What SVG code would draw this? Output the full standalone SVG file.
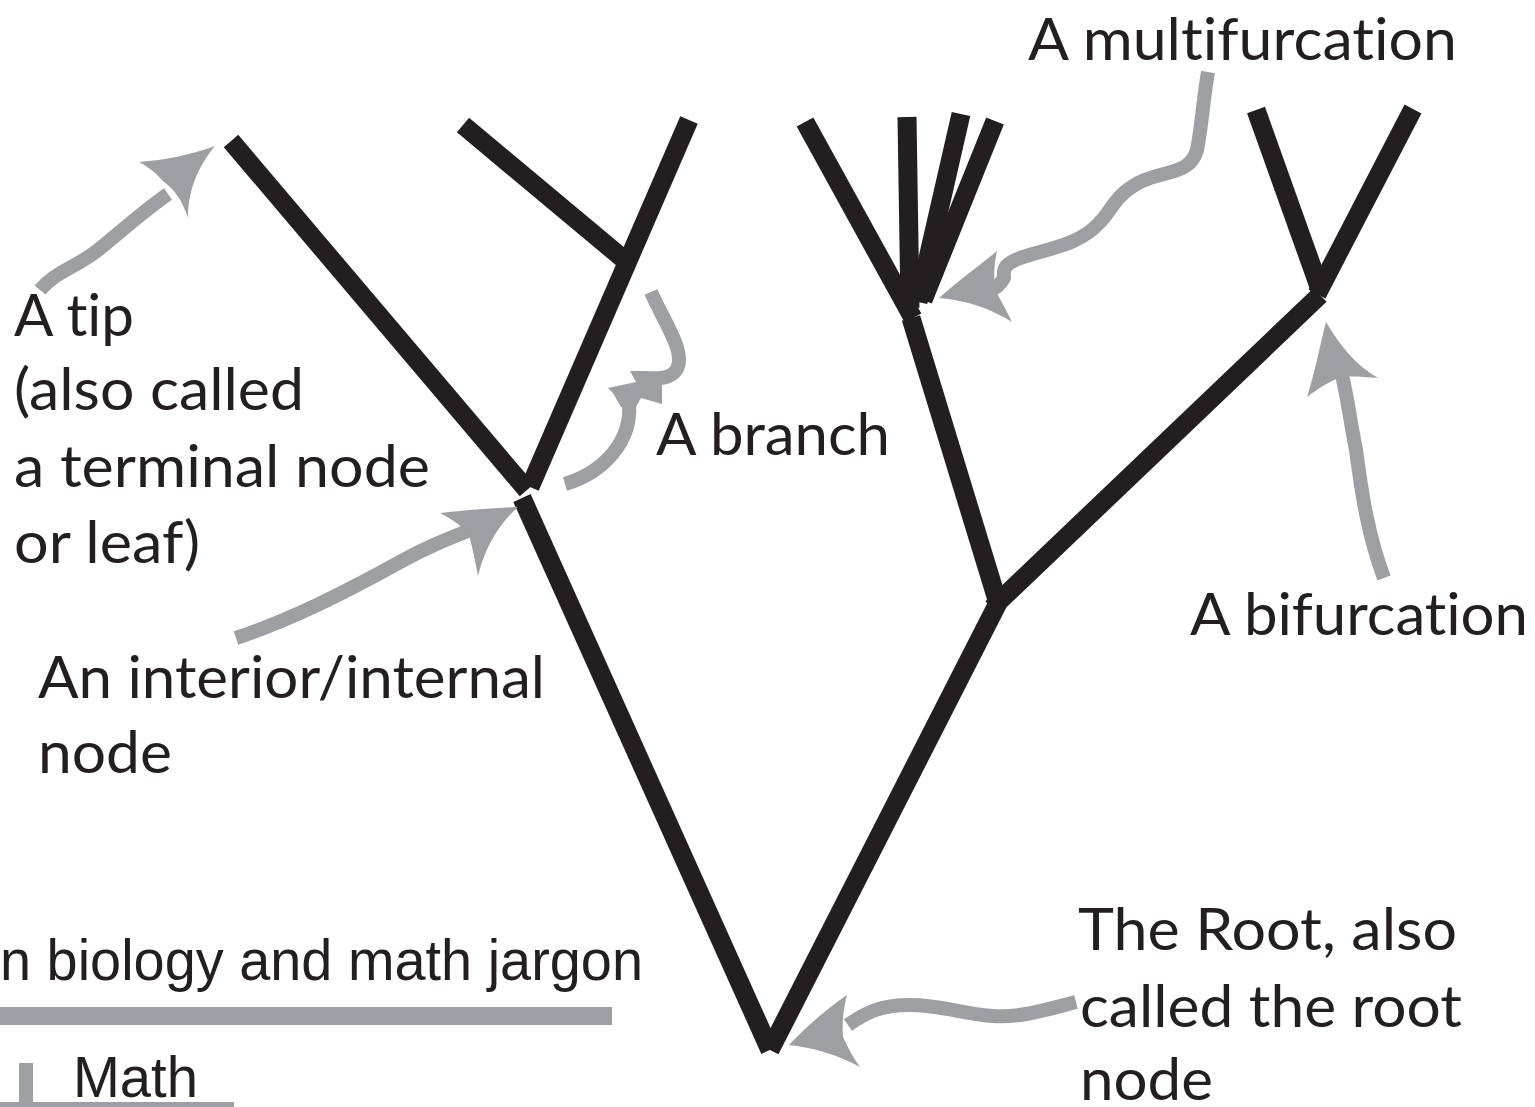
<svg xmlns="http://www.w3.org/2000/svg" width="1535" height="1107" viewBox="0 0 1535 1107">
  <style>
    .br { stroke: #231f20; stroke-width: 19; stroke-linecap: butt; fill: none; }
    .ar { stroke: #9d9fa2; stroke-width: 14; stroke-linecap: butt; stroke-linejoin: round; fill: none; }
    .hd { fill: #9d9fa2; stroke: none; }
    .lb { font-family: "Lato", "Open Sans", "Noto Sans", sans-serif; font-size: 58px; fill: #231f20; font-variant-ligatures: none; }
    .cn { font-family: "Liberation Sans", Arial, sans-serif; font-size: 58px; fill: #231f20; }
  </style>
  <rect width="1535" height="1107" fill="#ffffff"/>

  <!-- tree branches -->
  <g id="tree">
    <line class="br" x1="231" y1="141" x2="527" y2="490"/>
    <line class="br" x1="463" y1="125" x2="627" y2="262"/>
    <line class="br" x1="689" y1="120" x2="530" y2="487"/>
    <line class="br" x1="522" y1="498" x2="770" y2="1050"/>
    <line class="br" x1="770" y1="1050" x2="998" y2="603"/>
    <line class="br" x1="992" y1="608" x2="1320" y2="295"/>
    <line class="br" x1="998" y1="603" x2="911" y2="318"/>
    <line class="br" x1="805" y1="122" x2="913" y2="318"/>
    <line class="br" x1="907" y1="117" x2="910" y2="308"/>
    <line class="br" x1="961" y1="114" x2="918" y2="302"/>
    <line class="br" x1="995" y1="121" x2="923" y2="300"/>
    <line class="br" x1="1256" y1="110" x2="1321" y2="292"/>
    <line class="br" x1="1413" y1="109" x2="1317" y2="294"/>
  </g>

  <!-- pointer arrows -->
  <g id="connectors">
    <!-- to the tip -->
    <path class="ar" d="M40,290 C55,272 75,268 98,250 C125,228 145,210 168,194"/>
    <path class="hd" d="M215,146 C195,170 188,195 188,218 C182,200 175,190 163,181 C155,172 147,166 139,162 C165,160 190,155 215,146 Z"/>
    <!-- to the interior node -->
    <path class="ar" d="M236,638 C290,620 340,595 400,562 C425,548 445,540 470,530"/>
    <path class="hd" d="M518,507 C498,525 485,548 478,576 C475,560 472,545 468,532 C460,525 450,518 440,513 C467,510 492,508 518,507 Z"/>
    <!-- the branch brace -->
    <path class="ar" d="M651,292 C664,322 686,352 677,369 C671,379 660,379 640,378"/>
    <path class="ar" d="M565,484 C605,472 632,440 629,404"/>
    <path class="hd" d="M630,371 L648,371 L662,384 L662,404 L641,398 L636,407 L621,407 L613,393 L608,388 L636,382 Z"/>
    <!-- to the multifurcation -->
    <path class="ar" d="M1208,72 C1203,100 1202,125 1197,150 C1190,175 1165,170 1140,182 C1115,195 1112,210 1100,222 C1080,245 1050,248 1020,258 C1005,264 1003,268 1004,278 C1000,285 996,288 990,291"/>
    <path class="hd" d="M939,298 C962,278 980,265 997,251 C994,265 993,280 996,292 C1002,302 1007,312 1012,322 C990,308 965,300 939,298 Z"/>
    <!-- to the bifurcation -->
    <path class="ar" d="M1384,578 C1368,535 1362,495 1356,450 C1350,420 1348,400 1342,375"/>
    <path class="hd" d="M1326,322 C1340,345 1355,365 1378,378 C1365,377 1352,376 1341,377 C1328,382 1316,390 1307,397 C1315,372 1320,345 1326,322 Z"/>
    <!-- to the root -->
    <path class="ar" d="M1076,1002 C1045,1010 1020,1018 993,1016 C965,1014 940,1005 910,1005 C880,1005 865,1013 848,1025"/>
    <path class="hd" d="M789,1045 C808,1025 828,1008 847,995 C843,1010 842,1024 843,1037 C848,1047 853,1058 860,1067 C838,1055 815,1048 789,1045 Z"/>
  </g>

  <!-- labels (ZWNJ keeps "t" and "i" as separate glyphs) -->
  <g id="labels">
    <text class="lb" x="1028" y="60" textLength="429" lengthAdjust="spacingAndGlyphs">A mult&#8204;ifurcat&#8204;ion</text>
    <text class="lb" x="14" y="336" textLength="120" lengthAdjust="spacingAndGlyphs">A t&#8204;ip</text>
    <text class="lb" x="14" y="410" textLength="290" lengthAdjust="spacingAndGlyphs">(also called</text>
    <text class="lb" x="14" y="487" textLength="416" lengthAdjust="spacingAndGlyphs">a terminal node</text>
    <text class="lb" x="14" y="563" textLength="186" lengthAdjust="spacingAndGlyphs">or leaf)</text>
    <text class="lb" x="656" y="455" textLength="234" lengthAdjust="spacingAndGlyphs">A branch</text>
    <text class="lb" x="1190" y="635" textLength="338" lengthAdjust="spacingAndGlyphs">A bifurcat&#8204;ion</text>
    <text class="lb" x="38" y="698" textLength="507" lengthAdjust="spacingAndGlyphs">An interior/internal</text>
    <text class="lb" x="38" y="773" textLength="134" lengthAdjust="spacingAndGlyphs">node</text>
    <text class="lb" x="1078" y="950" textLength="379" lengthAdjust="spacingAndGlyphs">The Root,  also</text>
    <text class="lb" x="1080" y="1027" textLength="382" lengthAdjust="spacingAndGlyphs">called the root</text>
    <text class="lb" x="1080" y="1100" textLength="133" lengthAdjust="spacingAndGlyphs">node</text>
  </g>

  <!-- jargon key, lower left -->
  <g id="key">
    <text class="cn" x="0" y="980" textLength="643" lengthAdjust="spacingAndGlyphs">n biology and math jargon</text>
    <rect x="0" y="1007" width="612" height="18" fill="#9d9fa2"/>
    <text class="cn" x="73" y="1097" textLength="125" lengthAdjust="spacingAndGlyphs">Math</text>
    <rect x="19" y="1063" width="14" height="44" fill="#9d9fa2"/>
    <rect x="0" y="1102" width="234" height="5" fill="#9d9fa2"/>
  </g>
</svg>
